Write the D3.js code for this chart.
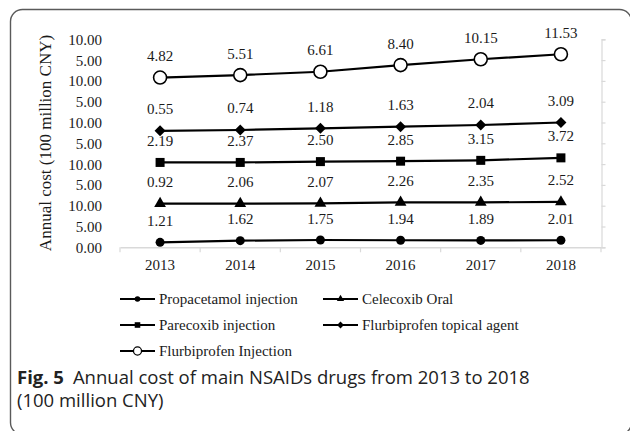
<!DOCTYPE html>
<html>
<head>
<meta charset="utf-8">
<script src="https://cdn.jsdelivr.net/npm/d3@7"></script>
<style>
  html, body { margin: 0; padding: 0; background: #ffffff; }
  svg { display: block; }
</style>
</head>
<body>
<div id="chart"></div>
<script>
// ---------- data ----------
const years = ["2013", "2014", "2015", "2016", "2017", "2018"];
const seriesNames = ["Propacetamol injection", "Celecoxib Oral", "Parecoxib injection",
                     "Flurbiprofen topical agent", "Flurbiprofen Injection"];
// printed data labels
const labelsPropacetamol = [1.21, 1.62, 1.75, 1.94, 1.89, 2.01];
const labelsCelecoxib    = [0.92, 2.06, 2.07, 2.26, 2.35, 2.52];
const labelsParecoxib    = [2.19, 2.37, 2.50, 2.85, 3.15, 3.72];
const labelsFlurTopical  = [0.55, 0.74, 1.18, 1.63, 2.04, 3.09];
const labelsFlurInj      = [4.82, 5.51, 6.61, 8.40, 10.15, 11.53];
// plotted heights on the stacked-panel axis
const plotPropacetamol = [1.2, 1.6, 1.75, 1.7, 1.65, 1.7];
const plotCelecoxib    = [10.5, 10.5, 10.55, 10.8, 10.8, 10.9];
const plotParecoxib    = [20.4, 20.4, 20.6, 20.7, 20.9, 21.5];
const plotFlurTopical  = [28.0, 28.2, 28.6, 29.0, 29.4, 30.0];
const plotFlurInj      = [40.8, 41.4, 42.2, 43.8, 45.2, 46.4];
// axis ticks
const yTickValues = [0, 5, 10, 15, 20, 25, 30, 35, 40, 45, 50];
const yTickLabels = ["0.00", "5.00", "10.00", "5.00", "10.00", "5.00", "10.00", "5.00", "10.00", "5.00", "10.00"];

const series = [
  { name: seriesNames[0], plot: plotPropacetamol, labels: labelsPropacetamol, marker: "circle" },
  { name: seriesNames[1], plot: plotCelecoxib, labels: labelsCelecoxib, marker: "triangle" },
  { name: seriesNames[2], plot: plotParecoxib, labels: labelsParecoxib, marker: "square" },
  { name: seriesNames[3], plot: plotFlurTopical, labels: labelsFlurTopical, marker: "diamond" },
  { name: seriesNames[4], plot: plotFlurInj, labels: labelsFlurInj, marker: "open" }
];

// ---------- layout ----------
const W = 630, H = 431;
const serif = "'Liberation Serif', 'Times New Roman', serif";
const sans = "'Open Sans', 'Noto Sans', sans-serif";
const ink = "#1a1a1a";
const axisGray = "#d9d9d9";

const svg = d3.select("#chart").append("svg").attr("width", W).attr("height", H);

// frame (bottom and right edges run off the picture)
svg.append("rect")
  .attr("x", 10.5).attr("y", 9.5).attr("width", 621).attr("height", 425)
  .attr("rx", 12).attr("ry", 12)
  .attr("fill", "none").attr("stroke", "#5a5a5a").attr("stroke-width", 1.4);

const x = d3.scaleBand().domain(years).range([120, 601]).padding(0);
const y = d3.scaleLinear().domain([0, 50]).range([247.3, 39.3]);
const cx = d => x(d) + x.bandwidth() / 2;

// x axis
const xAxis = d3.axisBottom(x).tickSize(0).tickPadding(0).tickFormat(d => d);
const gx = svg.append("g").attr("transform", `translate(0,${y(0)})`).call(xAxis);
gx.select(".domain").attr("stroke", axisGray).attr("stroke-width", 1.5);
gx.selectAll("text").remove();
gx.selectAll(".tick line").remove();
// band boundary ticks
const bounds = years.map(d => x(d)).concat([x(years[years.length - 1]) + x.bandwidth()]);
svg.append("g").selectAll("line").data(bounds).join("line")
  .attr("x1", d => d).attr("x2", d => d)
  .attr("y1", y(0)).attr("y2", y(0) + 5)
  .attr("stroke", axisGray).attr("stroke-width", 1.2);
svg.append("g").selectAll("text").data(years).join("text")
  .attr("x", d => cx(d)).attr("y", y(0) + 23)
  .attr("text-anchor", "middle")
  .attr("font-family", serif).attr("font-size", 15).attr("fill", ink)
  .text(d => d);

// right-hand light axis
const yRight = d3.axisRight(y).tickValues(yTickValues).tickSize(4).tickFormat("");
const gr = svg.append("g").attr("transform", `translate(601.5,0)`).call(yRight);
gr.select(".domain").attr("stroke", axisGray).attr("stroke-width", 1.2);
gr.selectAll(".tick line").attr("stroke", axisGray).attr("stroke-width", 1.2);

// left tick labels
const yLeft = d3.axisLeft(y).tickValues(yTickValues).tickSize(0).tickPadding(0)
  .tickFormat((d, i) => yTickLabels[i]);
const gl = svg.append("g").attr("transform", `translate(102,0)`).call(yLeft);
gl.select(".domain").remove();
gl.selectAll("text").attr("font-family", serif).attr("font-size", 15).attr("fill", ink)
  .attr("dy", "0.33em").attr("x", 0);

// y title
svg.append("text")
  .attr("transform", `translate(51,143) rotate(-90)`)
  .attr("text-anchor", "middle")
  .attr("font-family", serif).attr("font-size", 17).attr("fill", ink)
  .text("Annual cost (100 million CNY)");

// markers
function drawMarker(g, type, px, py, scale) {
  const s = scale || 1;
  if (type === "circle") {
    g.append("circle").attr("cx", px).attr("cy", py).attr("r", 4.5 * s).attr("fill", "#000");
  } else if (type === "triangle") {
    g.append("path").attr("d", d3.symbol().type(d3.symbolTriangle).size(60 * s * s)())
      .attr("transform", `translate(${px},${py})`).attr("fill", "#000");
  } else if (type === "square") {
    g.append("rect").attr("x", px - 4.5 * s).attr("y", py - 4.5 * s)
      .attr("width", 9 * s).attr("height", 9 * s).attr("fill", "#000");
  } else if (type === "diamond") {
    const r = 5.5 * s;
    g.append("path").attr("d", `M${px},${py - r}L${px + r},${py}L${px},${py + r}L${px - r},${py}Z`)
      .attr("fill", "#000");
  } else if (type === "open") {
    g.append("circle").attr("cx", px).attr("cy", py).attr("r", 6.5 * s)
      .attr("fill", "#fff").attr("stroke", "#000").attr("stroke-width", 1.6 * Math.max(s, 0.8));
  }
}

const line = d3.line().x((d, i) => cx(years[i])).y(d => y(d));
const plotG = svg.append("g");
series.forEach(s => {
  plotG.append("path").datum(s.plot).attr("d", line)
    .attr("fill", "none").attr("stroke", "#000").attr("stroke-width", 2.2);
  const mg = plotG.append("g");
  s.plot.forEach((v, i) => drawMarker(mg, s.marker, cx(years[i]), y(v)));
  plotG.append("g").selectAll("text").data(s.labels).join("text")
    .attr("x", (d, i) => cx(years[i]))
    .attr("y", (d, i) => y(s.plot[i]) - 16.5)
    .attr("text-anchor", "middle")
    .attr("font-family", serif).attr("font-size", 15).attr("fill", ink)
    .text(d => d.toFixed(2));
});

// legend
const legendPos = [
  { x: 120, y: 299 }, { x: 323, y: 299 },
  { x: 120, y: 325 }, { x: 323, y: 325 },
  { x: 120, y: 351 }
];
const lg = svg.append("g");
series.forEach((s, i) => {
  const p = legendPos[i];
  lg.append("line").attr("x1", p.x).attr("x2", p.x + 35).attr("y1", p.y).attr("y2", p.y)
    .attr("stroke", "#000").attr("stroke-width", 2);
  drawMarker(lg, s.marker, p.x + 17.5, p.y, 0.62);
  lg.append("text").attr("x", p.x + 39).attr("y", p.y + 5)
    .attr("font-family", serif).attr("font-size", 15).attr("fill", ink)
    .text(s.name);
});

// caption
const cap = svg.append("text").attr("x", 17).attr("y", 384)
  .attr("font-family", sans).attr("font-size", 18.5).attr("fill", "#222");
cap.append("tspan").attr("font-weight", "bold").text("Fig. 5");
cap.append("tspan").attr("dx", 9).text("Annual cost of main NSAIDs drugs from 2013 to 2018");
svg.append("text").attr("x", 17).attr("y", 407)
  .attr("font-family", sans).attr("font-size", 18.5).attr("fill", "#222")
  .text("(100 million CNY)");
</script>
</body>
</html>
